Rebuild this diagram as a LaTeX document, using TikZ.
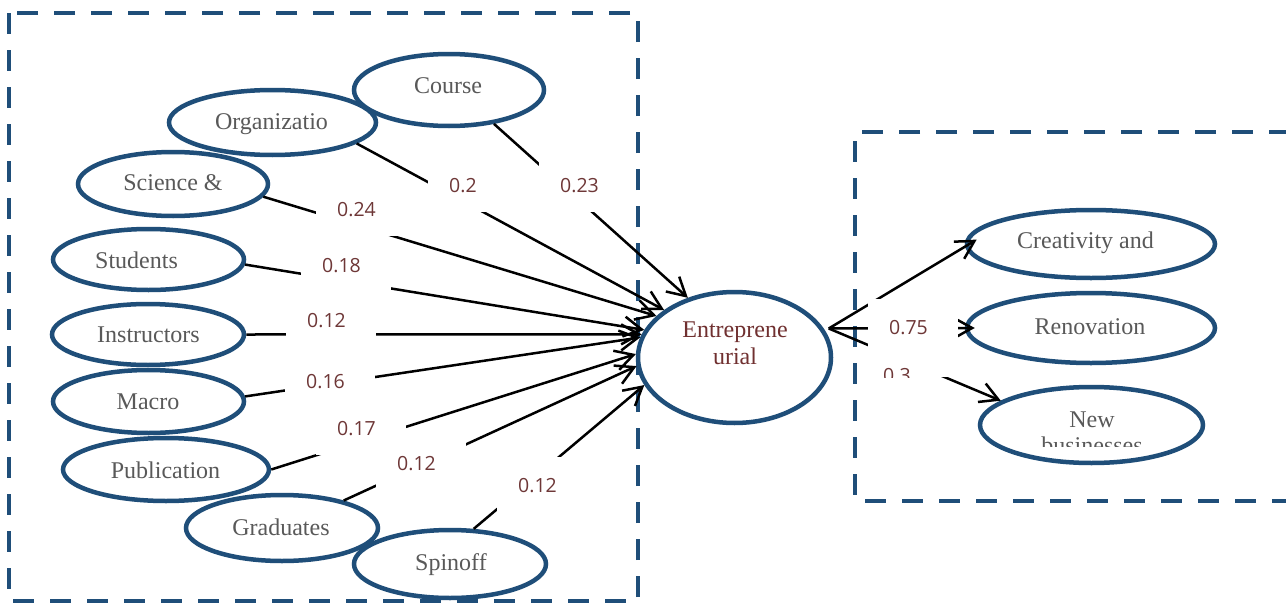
\documentclass[tikz,border=0pt]{standalone}
\usepackage{fontspec}
\setmainfont{Liberation Serif}
\newfontfamily\labfont{Open Sans}
\usetikzlibrary{shapes.geometric,arrows.meta}
\definecolor{eblue}{RGB}{31,78,121}
\definecolor{txtgray}{RGB}{89,89,89}
\definecolor{labred}{RGB}{110,55,55}
\definecolor{entred}{RGB}{112,48,48}
\begin{document}
\begin{tikzpicture}[x=1pt,y=-1pt,
 ell/.style={ellipse,draw=eblue,line width=4.5pt,inner sep=0pt},
 etxt/.style={anchor=base,text=txtgray,font=\fontsize{24}{27}\selectfont,inner sep=0pt},
 conn/.style={draw=black,line width=2.5pt,-{Straight Barb[length=18pt,width=20pt,line width=2.5pt]}},
 lbox/.style={fill=white,draw=none,minimum width=90pt,minimum height=55pt,inner sep=0pt,anchor=north west},
 ltxt/.style={anchor=base west,text=labred,font=\labfont\fontsize{19.5}{22}\selectfont,inner sep=0pt},
 dbox/.style={draw=eblue,line width=4pt,dash pattern=on 21pt off 16pt}]
\useasboundingbox (0,0) rectangle (1286,605);
\fill[white] (0,0) rectangle (1286,605);

% dashed group boxes
\draw[dbox] (9,13) rectangle (638,601);
\draw[dbox] (1290,132) -- (855,132) -- (855,501) -- (1290,501);

% ellipses
\node[ell,minimum width=190pt,minimum height=72pt] (course) at (449,90) {};
\node[ell,minimum width=207pt,minimum height=65pt] (org) at (272.5,122.5) {};
\node[ell,minimum width=190pt,minimum height=64pt] (sci) at (173,184) {};
\node[ell,minimum width=191pt,minimum height=61pt] (stu) at (148.5,259.5) {};
\node[ell,minimum width=192pt,minimum height=61pt] (ins) at (148,334.5) {};
\node[ell,minimum width=191pt,minimum height=63pt] (mac) at (148.5,401.5) {};
\node[ell,minimum width=206pt,minimum height=63pt] (pub) at (166,469.5) {};
\node[ell,minimum width=192pt,minimum height=66pt] (gra) at (282,528) {};
\node[ell,minimum width=192pt,minimum height=68pt] (spi) at (450,564) {};
\node[ell,minimum width=193pt,minimum height=131pt] (ent) at (734.5,357.5) {};
\node[ell,minimum width=248pt,minimum height=68pt] (cre) at (1091,244) {};
\node[ell,minimum width=248pt,minimum height=70pt] (ren) at (1091,328) {};
\node[ell,minimum width=223pt,minimum height=76pt] (new) at (1091.5,425) {};

% texts
\node[etxt] (tcourse) at (448,93) {Course};
\node[etxt] (torg) at (271.5,129) {Organizatio};
\node[etxt] (tsci) at (173,190) {Science \&};
\node[etxt] (tstu) at (136.5,268) {Students};
\node[etxt] (tins) at (148.5,342) {Instructors};
\node[etxt] (tmac) at (148,409) {Macro};
\node[etxt] (tpub) at (165.5,478) {Publication};
\node[etxt] (tgra) at (281,535) {Graduates};
\node[etxt] (tspi) at (451,570) {Spinoff};
\node[etxt,text=entred] (te1) at (735,337) {Entreprene};
\node[etxt,text=entred] (te2) at (735,364) {urial};
\node[etxt] (tcre) at (1085.5,248) {Creativity and};
\node[etxt] (tren) at (1090,334) {Renovation};
\node[etxt] (tnew) at (1092,427) {New};
\begin{scope}
\clip (980,430) rectangle (1210,446);
\node[etxt] (tbus) at (1092,453) {businesses};
\end{scope}

% connectors
\draw[conn] (course.-37) -- (ent.128.7);
\draw[conn] (org.-14.7) -- (ent.146.9);
\draw[conn] (sci.-8.4) -- (ent.152.2);
\draw[conn] (stu.-3.2) -- (ent.163.1);
\draw[conn] (ins.east) -- (ent.166.5);
\draw[conn] (mac.3.8) -- (ent.168.5);
\draw[conn] (pub.east) -- (ent.178.5);
\draw[conn] (gra.24.2) -- (ent.185.6);
\draw[conn] (spi.56.7) -- (ent.197.7);
\draw[conn] ([xshift=5pt]ent.18) -- ([xshift=11pt]cre.178);
\draw[conn] ([xshift=5pt]ent.18) -- ([xshift=10pt]ren.west);
\draw[conn] ([xshift=5pt]ent.18) -- (new.165);

% labels with white boxes
\node[lbox] (b1) at (428,157) {};  \node[ltxt] (l1) at (449,192) {0.2};
\node[lbox] (b2) at (539,157) {};  \node[ltxt] (l2) at (560,192) {0.23};
\node[lbox] (b3) at (316,181) {};  \node[ltxt] (l3) at (337,216) {0.24};
\node[lbox] (b4) at (301,237) {};  \node[ltxt] (l4) at (322,272) {0.18};
\node[lbox] (b5) at (286,292) {};  \node[ltxt] (l5) at (307,327) {0.12};
\node[lbox] (b6) at (285,353) {};  \node[ltxt] (l6) at (306,388) {0.16};
\node[lbox] (b7) at (316,400) {};  \node[ltxt] (l7) at (337,435) {0.17};
\node[lbox] (b8) at (376,435) {};  \node[ltxt] (l8) at (397,470) {0.12};
\node[lbox] (b9) at (497,457) {};  \node[ltxt] (l9) at (518,492) {0.12};
\node[lbox] (b10) at (868,299) {}; \node[ltxt] (l10) at (889,334) {0.75};
\node[lbox,minimum height=30pt] (b11) at (862,347) {};
\begin{scope}
\clip (b11.north west) rectangle (b11.south east);
\node[ltxt] (l11) at (883,382) {0.3};
\end{scope}
\end{tikzpicture}
\end{document}
